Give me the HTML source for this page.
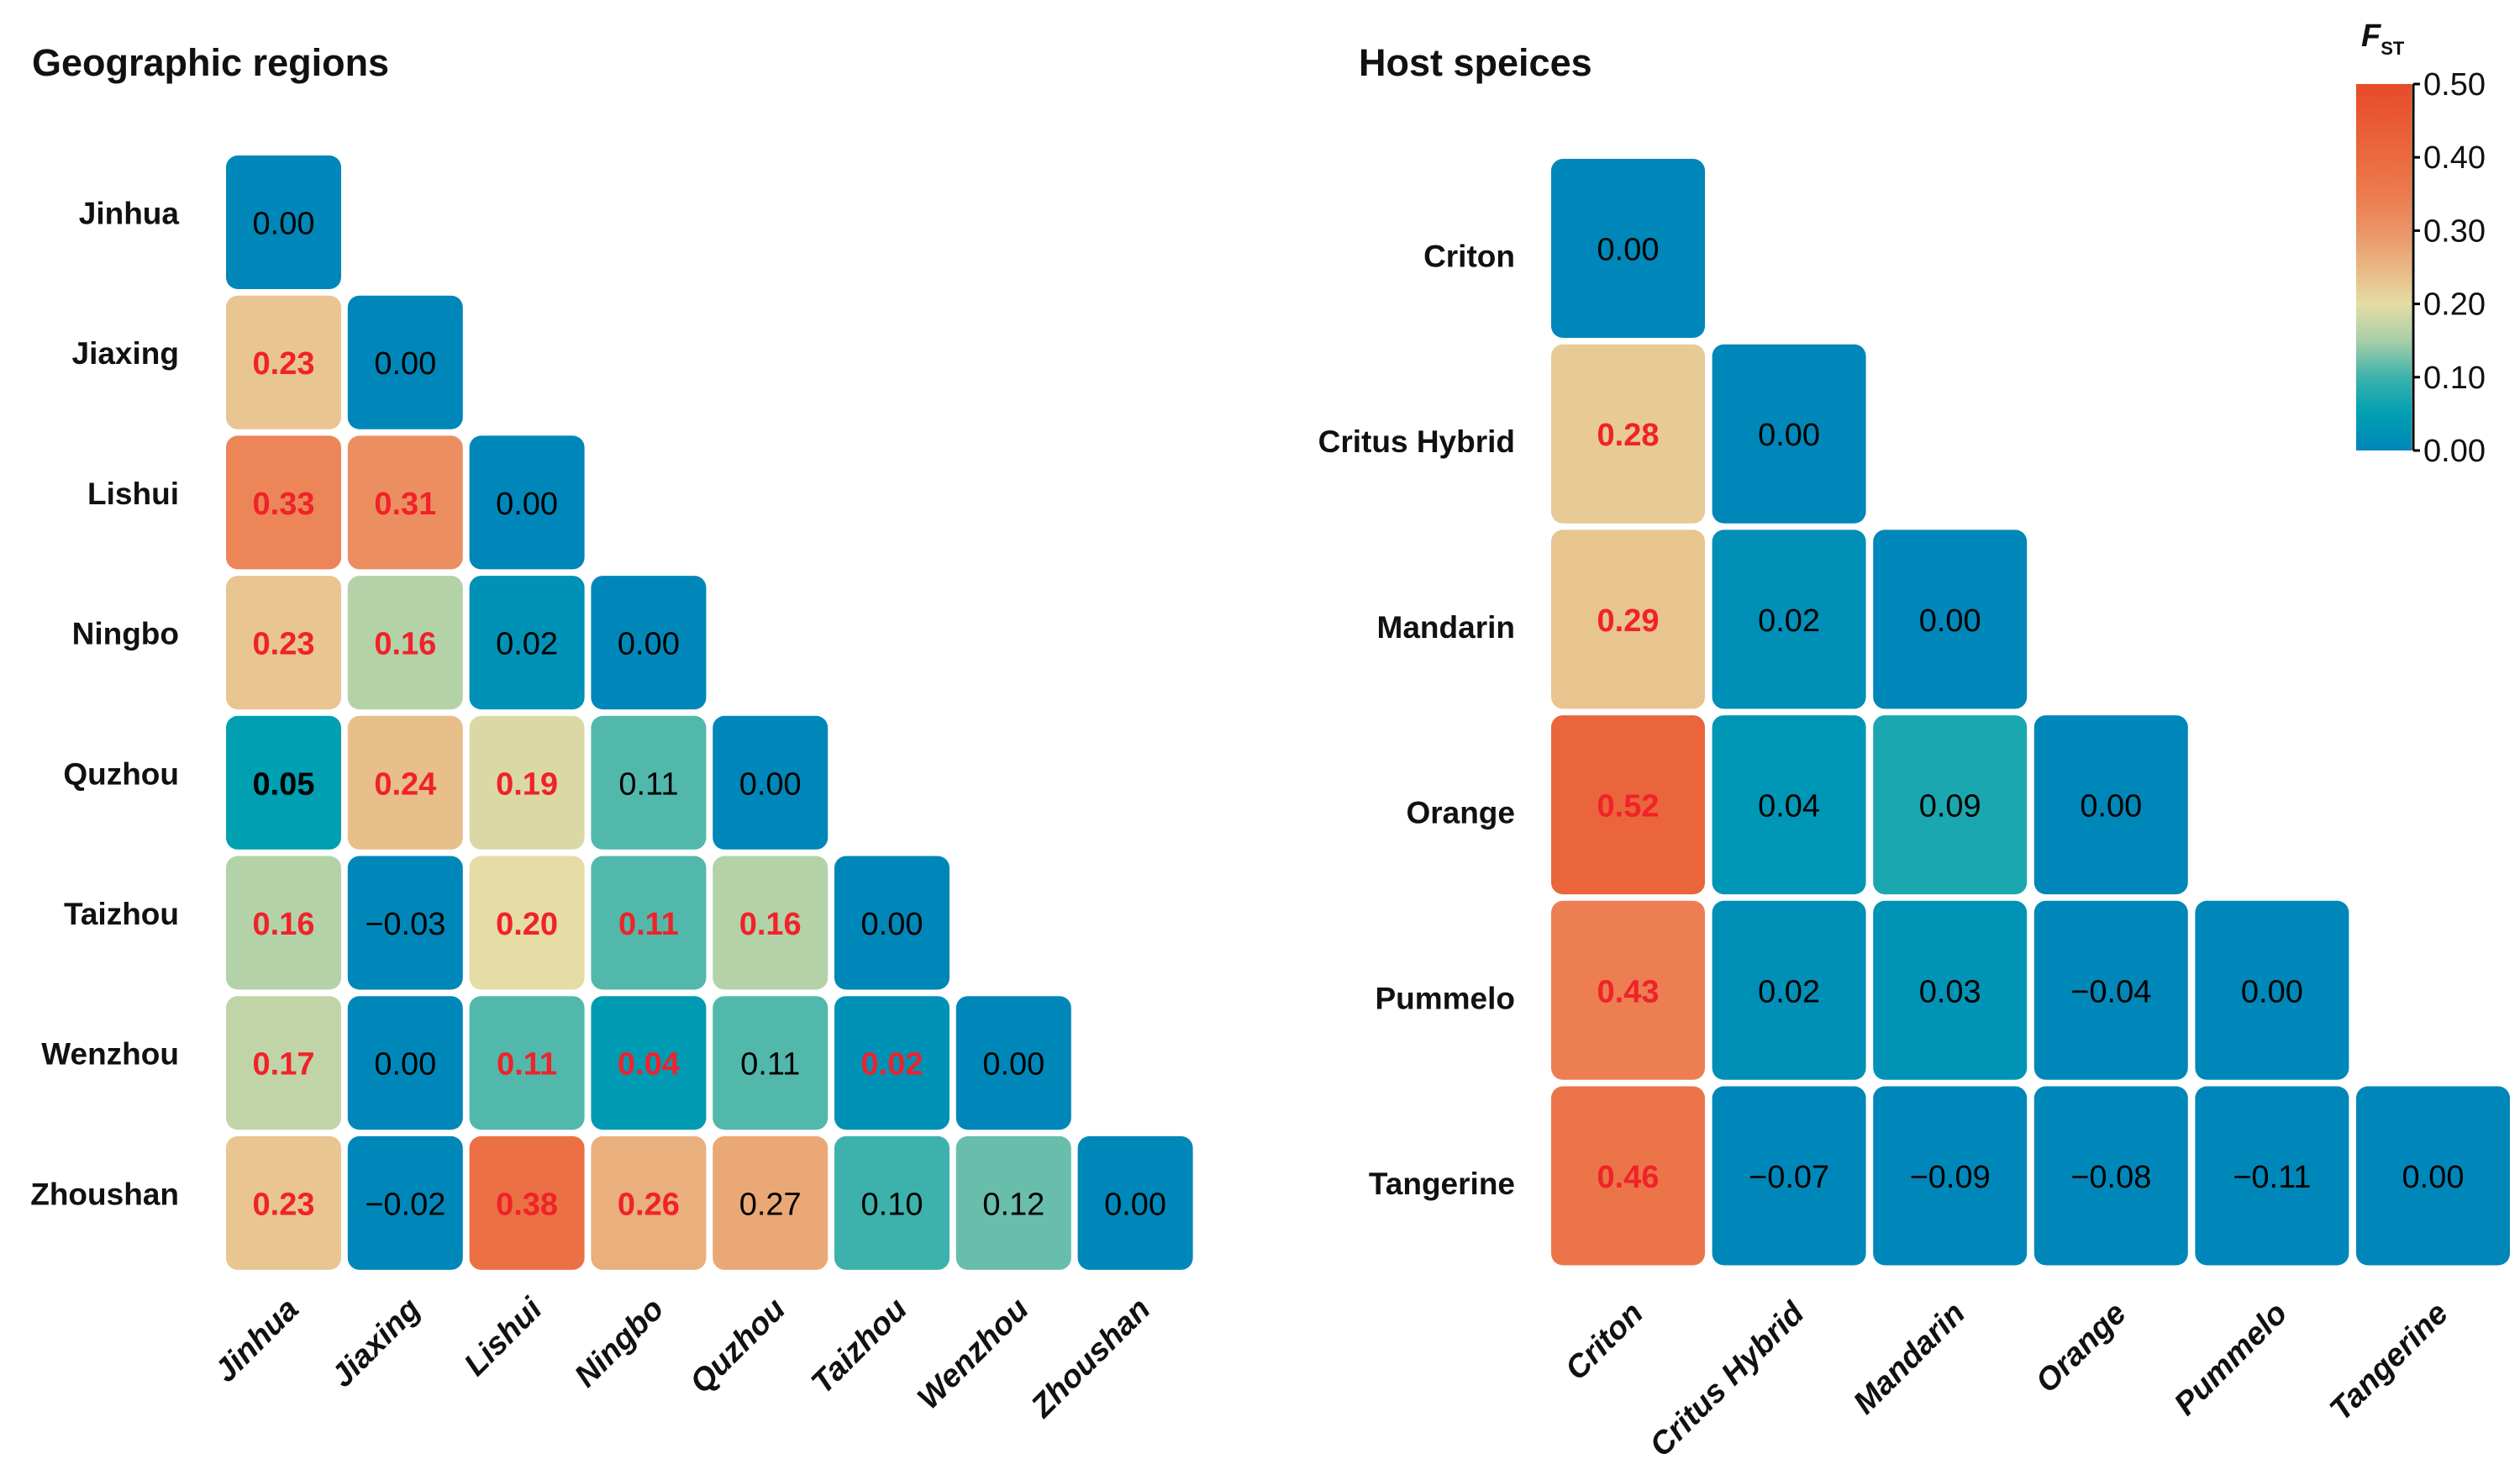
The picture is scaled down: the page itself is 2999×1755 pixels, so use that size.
<!DOCTYPE html>
<html><head><meta charset="utf-8">
<style>
html,body{margin:0;padding:0;background:#fff;}
svg{display:block;font-family:"Liberation Sans",Arial,sans-serif;}
</style></head>
<body>
<svg id="chart" width="2999" height="1755" viewBox="0 0 2999 1755" xmlns="http://www.w3.org/2000/svg">
  <defs>
    <linearGradient id="cbar" x1="0" y1="1" x2="0" y2="0">
      <stop offset="0" stop-color="#0087b9"/>
      <stop offset="0.1" stop-color="#009fb2"/>
      <stop offset="0.2" stop-color="#3db2ac"/>
      <stop offset="0.3" stop-color="#a8cfa8"/>
      <stop offset="0.4" stop-color="#e6dca5"/>
      <stop offset="0.5" stop-color="#e9b683"/>
      <stop offset="0.6" stop-color="#eb9466"/>
      <stop offset="0.7" stop-color="#ec7b4e"/>
      <stop offset="0.8" stop-color="#ea6a3e"/>
      <stop offset="1" stop-color="#e84a2a"/>
    </linearGradient>
  </defs>
  <text x="38" y="90" font-size="45" font-weight="bold" fill="#111">Geographic regions</text>
  <text x="1617" y="90" font-size="45" font-weight="bold" fill="#111">Host speices</text>
  <g id="left"></g>
  <g id="right"></g>
  <g id="legend">
    <text x="2810" y="55" font-size="38" font-weight="bold" font-style="italic" fill="#111">F<tspan font-size="22" dy="10" font-style="normal">ST</tspan></text>
    <rect x="2804" y="100" width="66" height="436" fill="url(#cbar)"/>
    <line x1="2872" y1="100" x2="2872" y2="536" stroke="#000" stroke-width="3"/>
  </g>
</svg>
<script>
const geoCats = ["Jinhua","Jiaxing","Lishui","Ningbo","Quzhou","Taizhou","Wenzhou","Zhoushan"];
const geoValues = [
  [0.00],
  [0.23,0.00],
  [0.33,0.31,0.00],
  [0.23,0.16,0.02,0.00],
  [0.05,0.24,0.19,0.11,0.00],
  [0.16,-0.03,0.20,0.11,0.16,0.00],
  [0.17,0.00,0.11,0.04,0.11,0.02,0.00],
  [0.23,-0.02,0.38,0.26,0.27,0.10,0.12,0.00]
];
const geoSig = [
  [0],
  [1,0],
  [1,1,0],
  [1,1,0,0],
  [2,1,1,0,0],
  [1,0,1,1,1,0],
  [1,0,1,1,0,1,0],
  [1,0,1,1,0,0,0,0]
];
const hostCats = ["Criton","Critus Hybrid","Mandarin","Orange","Pummelo","Tangerine"];
const hostValues = [
  [0.00],
  [0.28,0.00],
  [0.29,0.02,0.00],
  [0.52,0.04,0.09,0.00],
  [0.43,0.02,0.03,-0.04,0.00],
  [0.46,-0.07,-0.09,-0.08,-0.11,0.00]
];
const hostSig = [
  [0],[1,0],[1,0,0],[1,0,0,0],[1,0,0,0,0],[1,0,0,0,0,0]
];
const legendTicks = [0.00,0.10,0.20,0.30,0.40,0.50];

const stops = [[0,"#0087b9"],[0.05,"#009fb2"],[0.1,"#3db2ac"],[0.15,"#a8cfa8"],[0.2,"#e6dca5"],[0.25,"#e9b683"],[0.3,"#eb9466"],[0.35,"#ec7b4e"],[0.4,"#ea6a3e"],[0.5,"#e84a2a"]];
function hex(h){return [1,3,5].map(i=>parseInt(h.substr(i,2),16));}
function color(v){
  v=Math.max(0,Math.min(0.5,v));
  for(let i=1;i<stops.length;i++){
    if(v<=stops[i][0]){
      const t=(v-stops[i-1][0])/(stops[i][0]-stops[i-1][0]);
      const a=hex(stops[i-1][1]),b=hex(stops[i][1]);
      return "rgb("+a.map((c,k)=>Math.round(c+(b[k]-c)*t)).join(",")+")";
    }
  }
  return stops[stops.length-1][1];
}
const NS="http://www.w3.org/2000/svg";
function mk(tag,attrs,parent){const e=document.createElementNS(NS,tag);for(const k in attrs)e.setAttribute(k,attrs[k]);parent.appendChild(e);return e;}
function fmt(v){return (v<0?"\u22120":"0")+Math.abs(v).toFixed(2).slice(1);}

function draw(g,cats,vals,sig,o){
  const xs=i=>o.x0+i*o.dx, ys=j=>o.y0+j*o.dy;
  cats.forEach((c,j)=>{
    const t=mk("text",{x:o.labelX,y:ys(j)+o.h/2+o.labDy,"text-anchor":"end","font-size":37,"font-weight":"bold",fill:"#111"},g);
    
    
    t.textContent=c;
    const cx=xs(j)+o.w/2+20, cy=o.xLabY;
    const tx=mk("text",{x:cx,y:cy,"text-anchor":"end","font-size":38,"font-weight":"bold","font-style":"italic",fill:"#111",transform:`rotate(-45 ${cx} ${cy})`},g);
    
    
    tx.textContent=c;
  });
  vals.forEach((row,j)=>row.forEach((v,i)=>{
    const r=mk("rect",{x:xs(i),y:ys(j),width:o.w,height:o.h,rx:14,ry:14,fill:color(v*o.scale)},g);
    
    
    const s=sig[j][i];
    const t=mk("text",{x:xs(i)+o.w/2,y:ys(j)+o.h/2+14,"text-anchor":"middle","font-size":38,"font-weight":s?"bold":"normal",fill:s===1?"#f0222a":"#000"},g);
    
    
    t.textContent=fmt(v);
  }));
}
draw(document.getElementById("left"),geoCats,geoValues,geoSig,{x0:269,dx:144.8,w:137,y0:185,dy:166.7,h:159,labelX:213,xLabY:1560,labDy:2,scale:1});
draw(document.getElementById("right"),hostCats,hostValues,hostSig,{x0:1846,dx:191.6,w:183,y0:189,dy:220.7,h:213,labelX:1803,xLabY:1565,labDy:22,scale:0.8});

const lg=document.getElementById("legend");
legendTicks.forEach(v=>{
  const y=536-v/0.5*436;
  const l=mk("line",{x1:2872,y1:y,x2:2880,y2:y,stroke:"#000","stroke-width":3},lg);
  
  
  const t=mk("text",{x:2884,y:y+13,"font-size":38,fill:"#111"},lg);
  
  
  t.textContent=v.toFixed(2);
});
</script>
</body></html>
